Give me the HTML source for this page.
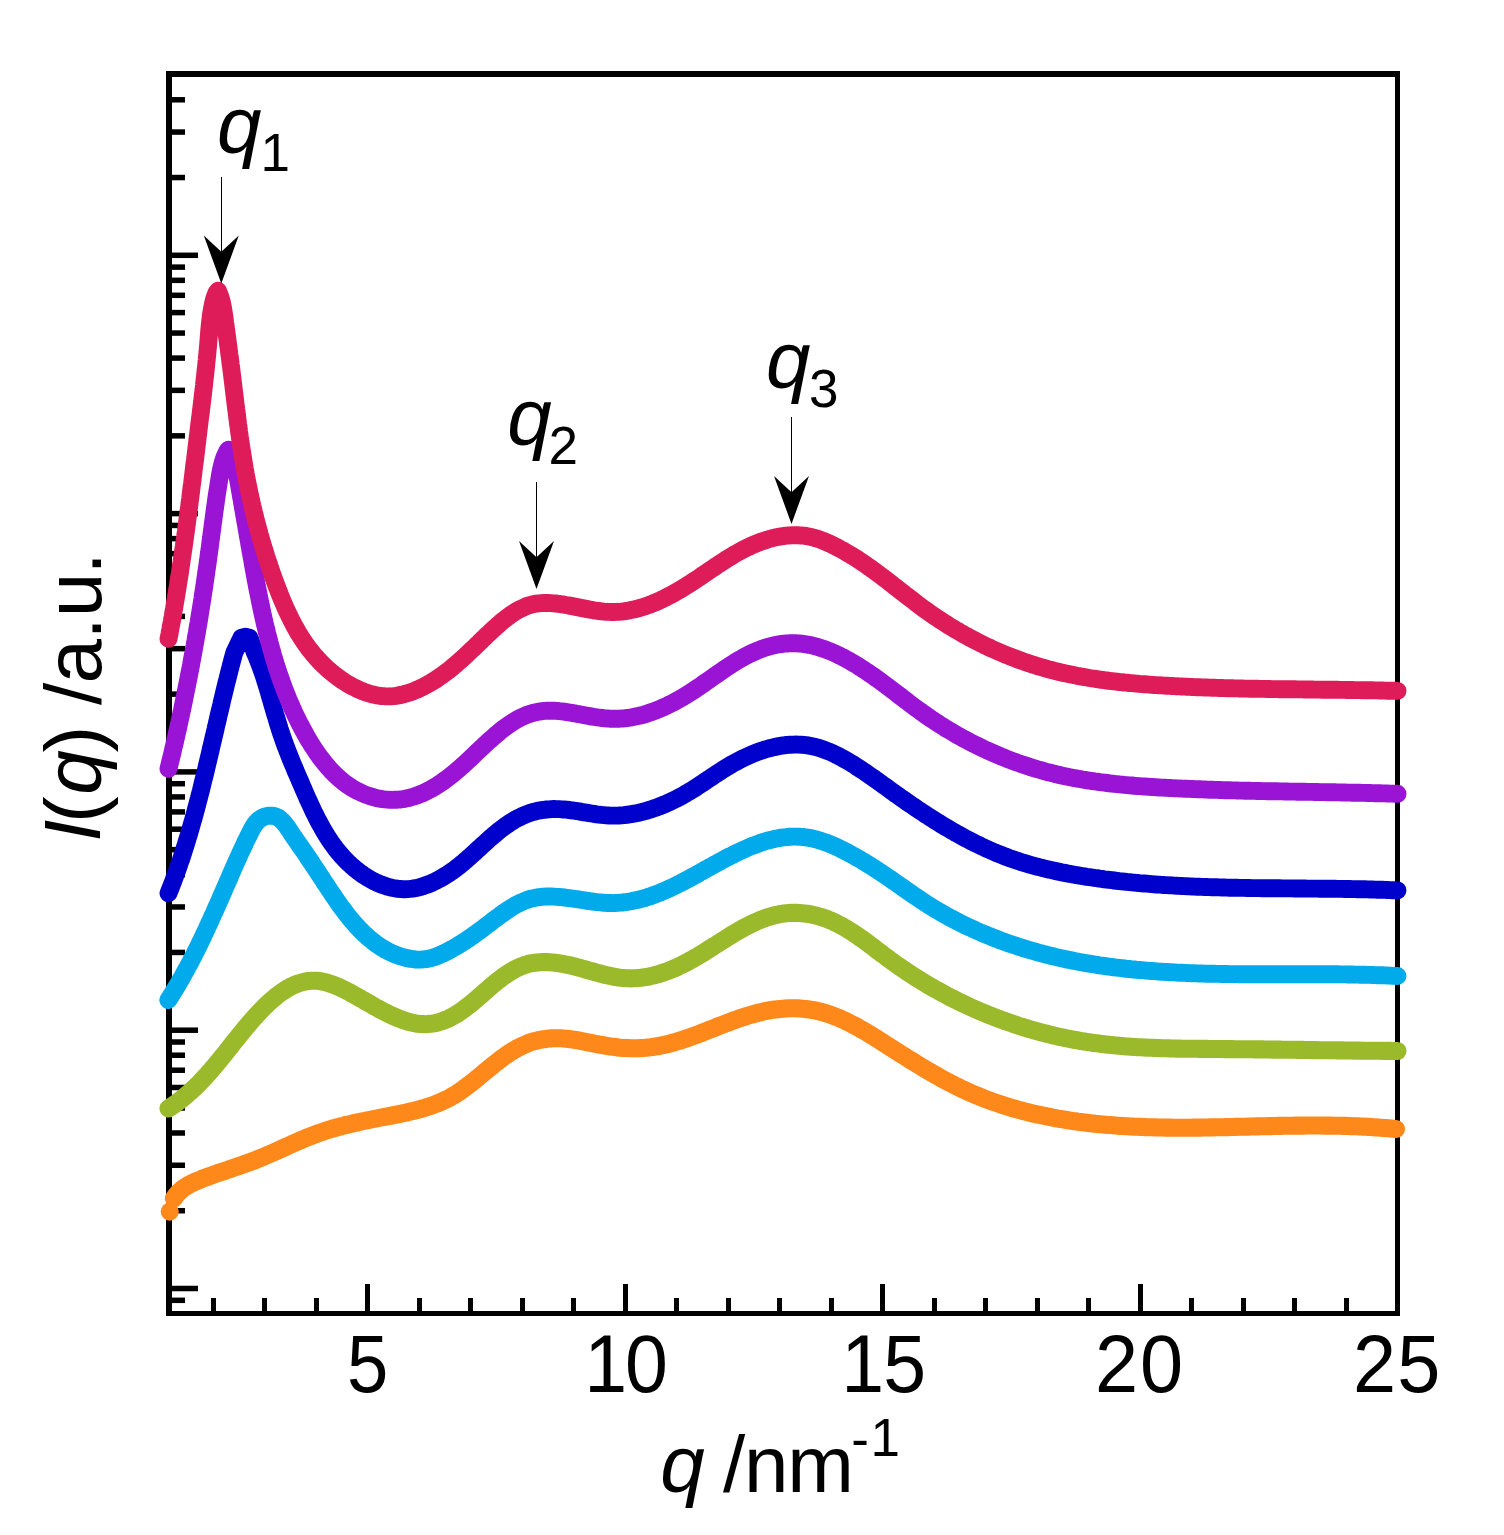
<!DOCTYPE html>
<html lang="en">
<head>
<meta charset="utf-8">
<title>I(q) vs q</title>
<style>
html,body{margin:0;padding:0;background:#ffffff;}
body{width:1504px;height:1535px;overflow:hidden;}
svg{display:block;}
</style>
</head>
<body>
<svg width="1504" height="1535" viewBox="0 0 1504 1535" role="img" aria-label="Scattering intensity I(q) versus q">
<rect x="0" y="0" width="1504" height="1535" fill="#ffffff"/>
<g fill="#000000" shape-rendering="crispEdges">
<rect x="166" y="71" width="1234" height="6"/>
<rect x="166" y="1311" width="1234" height="5"/>
<rect x="166" y="71" width="6" height="1245"/>
<rect x="1395" y="71" width="5" height="1245"/>
<rect x="211" y="1298" width="5" height="14"/>
<rect x="262" y="1298" width="5" height="14"/>
<rect x="314" y="1298" width="5" height="14"/>
<rect x="365" y="1284" width="5" height="28"/>
<rect x="417" y="1298" width="5" height="14"/>
<rect x="468" y="1298" width="5" height="14"/>
<rect x="520" y="1298" width="5" height="14"/>
<rect x="571" y="1298" width="5" height="14"/>
<rect x="623" y="1284" width="5" height="28"/>
<rect x="674" y="1298" width="5" height="14"/>
<rect x="726" y="1298" width="5" height="14"/>
<rect x="777" y="1298" width="5" height="14"/>
<rect x="829" y="1298" width="5" height="14"/>
<rect x="880" y="1284" width="5" height="28"/>
<rect x="932" y="1298" width="5" height="14"/>
<rect x="983" y="1298" width="5" height="14"/>
<rect x="1035" y="1298" width="5" height="14"/>
<rect x="1086" y="1298" width="5" height="14"/>
<rect x="1138" y="1284" width="5" height="28"/>
<rect x="1189" y="1298" width="5" height="14"/>
<rect x="1241" y="1298" width="5" height="14"/>
<rect x="1292" y="1298" width="5" height="14"/>
<rect x="1344" y="1298" width="5" height="14"/>
</g>
<g fill="#000000"><rect x="171" y="252.55" width="27" height="5.5"/><rect x="171" y="174.79" width="14" height="5.5"/><rect x="171" y="129.31" width="14" height="5.5"/><rect x="171" y="97.04" width="14" height="5.5"/><rect x="171" y="510.85" width="27" height="5.5"/><rect x="171" y="433.09" width="14" height="5.5"/><rect x="171" y="387.61" width="14" height="5.5"/><rect x="171" y="355.34" width="14" height="5.5"/><rect x="171" y="330.31" width="14" height="5.5"/><rect x="171" y="309.85" width="14" height="5.5"/><rect x="171" y="292.56" width="14" height="5.5"/><rect x="171" y="277.58" width="14" height="5.5"/><rect x="171" y="264.37" width="14" height="5.5"/><rect x="171" y="769.15" width="27" height="5.5"/><rect x="171" y="691.39" width="14" height="5.5"/><rect x="171" y="645.91" width="14" height="5.5"/><rect x="171" y="613.64" width="14" height="5.5"/><rect x="171" y="588.61" width="14" height="5.5"/><rect x="171" y="568.15" width="14" height="5.5"/><rect x="171" y="550.86" width="14" height="5.5"/><rect x="171" y="535.88" width="14" height="5.5"/><rect x="171" y="522.67" width="14" height="5.5"/><rect x="171" y="1027.45" width="27" height="5.5"/><rect x="171" y="949.69" width="14" height="5.5"/><rect x="171" y="904.21" width="14" height="5.5"/><rect x="171" y="871.94" width="14" height="5.5"/><rect x="171" y="846.91" width="14" height="5.5"/><rect x="171" y="826.45" width="14" height="5.5"/><rect x="171" y="809.16" width="14" height="5.5"/><rect x="171" y="794.18" width="14" height="5.5"/><rect x="171" y="780.97" width="14" height="5.5"/><rect x="171" y="1285.75" width="27" height="5.5"/><rect x="171" y="1207.99" width="14" height="5.5"/><rect x="171" y="1162.51" width="14" height="5.5"/><rect x="171" y="1130.24" width="14" height="5.5"/><rect x="171" y="1105.21" width="14" height="5.5"/><rect x="171" y="1084.75" width="14" height="5.5"/><rect x="171" y="1067.46" width="14" height="5.5"/><rect x="171" y="1052.48" width="14" height="5.5"/><rect x="171" y="1039.27" width="14" height="5.5"/><rect x="171" y="1297.57" width="14" height="5.5"/></g>
<circle cx="169.7" cy="1211.6" r="9.05" fill="#FF881A"/>
<path d="M173.9 1198.4 L175.3 1196.3 L176.8 1194.4 L178.4 1192.6 L180.1 1191.0 L181.9 1189.4 L183.8 1188.0 L185.8 1186.7 L187.9 1185.4 L190.0 1184.2 L192.1 1183.1 L194.4 1182.1 L196.6 1181.1 L198.9 1180.2 L201.2 1179.2 L203.5 1178.3 L205.9 1177.4 L208.2 1176.6 L210.6 1175.7 L212.9 1174.9 L215.3 1174.0 L217.7 1173.2 L220.1 1172.4 L222.5 1171.6 L224.9 1170.8 L227.3 1170.0 L229.7 1169.2 L232.1 1168.4 L234.5 1167.5 L236.9 1166.7 L239.3 1165.9 L241.6 1165.1 L244.0 1164.2 L246.4 1163.4 L248.8 1162.5 L251.2 1161.6 L253.5 1160.8 L255.9 1159.8 L258.2 1158.9 L260.6 1158.0 L262.9 1157.0 L265.2 1156.0 L267.5 1155.0 L269.9 1154.0 L272.2 1153.0 L274.5 1152.0 L276.7 1151.0 L279.0 1150.0 L281.3 1148.9 L283.6 1147.9 L285.9 1146.9 L288.2 1145.8 L290.5 1144.8 L292.7 1143.8 L295.0 1142.8 L297.3 1141.7 L299.6 1140.7 L301.9 1139.8 L304.2 1138.8 L306.5 1137.8 L308.8 1136.9 L311.1 1136.0 L313.4 1135.1 L315.8 1134.2 L318.1 1133.3 L320.5 1132.5 L322.8 1131.7 L325.2 1130.9 L327.5 1130.2 L329.9 1129.4 L332.3 1128.7 L334.7 1128.0 L337.1 1127.4 L339.5 1126.7 L341.9 1126.1 L344.4 1125.4 L346.8 1124.8 L349.2 1124.3 L351.7 1123.7 L354.1 1123.1 L356.6 1122.6 L359.0 1122.0 L361.5 1121.5 L363.9 1121.0 L366.4 1120.5 L368.9 1120.0 L371.3 1119.5 L373.8 1119.0 L376.3 1118.5 L378.8 1118.0 L381.2 1117.5 L383.7 1117.0 L386.2 1116.6 L388.7 1116.1 L391.2 1115.6 L393.7 1115.1 L396.2 1114.6 L398.6 1114.1 L401.1 1113.6 L403.6 1113.1 L406.1 1112.6 L408.5 1112.0 L411.0 1111.4 L413.4 1110.9 L415.9 1110.3 L418.3 1109.6 L420.7 1109.0 L423.1 1108.3 L425.5 1107.6 L427.8 1106.8 L430.2 1106.1 L432.5 1105.3 L434.9 1104.4 L437.2 1103.5 L439.4 1102.6 L441.7 1101.6 L443.9 1100.6 L446.2 1099.5 L448.3 1098.4 L450.5 1097.3 L452.6 1096.0 L454.8 1094.8 L456.8 1093.5 L458.9 1092.1 L461.0 1090.7 L463.0 1089.3 L465.0 1087.8 L467.0 1086.3 L469.0 1084.8 L471.0 1083.2 L473.0 1081.7 L475.0 1080.1 L476.9 1078.5 L478.9 1076.8 L480.9 1075.2 L482.8 1073.6 L484.8 1071.9 L486.8 1070.3 L488.8 1068.7 L490.8 1067.0 L492.8 1065.4 L494.8 1063.8 L496.8 1062.2 L498.8 1060.6 L500.9 1059.0 L502.9 1057.5 L505.0 1056.0 L507.1 1054.6 L509.2 1053.1 L511.4 1051.8 L513.5 1050.4 L515.7 1049.2 L517.9 1047.9 L520.1 1046.8 L522.3 1045.7 L524.6 1044.7 L526.9 1043.7 L529.2 1042.8 L531.5 1042.0 L533.9 1041.3 L536.3 1040.7 L538.7 1040.1 L541.1 1039.6 L543.5 1039.2 L546.0 1038.9 L548.4 1038.6 L550.9 1038.4 L553.4 1038.3 L555.9 1038.2 L558.3 1038.3 L560.8 1038.3 L563.3 1038.5 L565.8 1038.7 L568.2 1038.9 L570.7 1039.2 L573.2 1039.6 L575.7 1040.0 L578.1 1040.4 L580.6 1040.8 L583.1 1041.3 L585.6 1041.8 L588.0 1042.3 L590.5 1042.8 L593.0 1043.3 L595.5 1043.8 L598.0 1044.3 L600.5 1044.8 L603.0 1045.2 L605.5 1045.7 L608.0 1046.1 L610.5 1046.5 L613.0 1046.8 L615.5 1047.1 L618.0 1047.4 L620.5 1047.7 L623.0 1047.9 L625.6 1048.0 L628.1 1048.1 L630.6 1048.2 L633.1 1048.3 L635.6 1048.2 L638.1 1048.2 L640.6 1048.1 L643.1 1048.0 L645.6 1047.8 L648.1 1047.5 L650.5 1047.3 L653.0 1046.9 L655.4 1046.6 L657.9 1046.1 L660.3 1045.7 L662.7 1045.2 L665.1 1044.6 L667.6 1044.1 L670.0 1043.5 L672.4 1042.8 L674.8 1042.1 L677.1 1041.4 L679.5 1040.7 L681.9 1040.0 L684.3 1039.2 L686.6 1038.4 L689.0 1037.6 L691.4 1036.7 L693.7 1035.9 L696.1 1035.0 L698.5 1034.1 L700.8 1033.2 L703.2 1032.3 L705.5 1031.4 L707.9 1030.4 L710.2 1029.5 L712.6 1028.6 L714.9 1027.7 L717.3 1026.7 L719.6 1025.8 L722.0 1024.9 L724.4 1024.0 L726.7 1023.1 L729.1 1022.2 L731.5 1021.3 L733.8 1020.4 L736.2 1019.6 L738.6 1018.7 L741.0 1017.9 L743.4 1017.1 L745.8 1016.3 L748.2 1015.6 L750.6 1014.9 L753.0 1014.2 L755.4 1013.5 L757.9 1012.9 L760.3 1012.3 L762.8 1011.7 L765.2 1011.2 L767.7 1010.7 L770.2 1010.2 L772.7 1009.8 L775.2 1009.5 L777.7 1009.2 L780.2 1008.9 L782.7 1008.7 L785.2 1008.5 L787.7 1008.4 L790.2 1008.3 L792.8 1008.3 L795.3 1008.3 L797.8 1008.4 L800.2 1008.5 L802.7 1008.7 L805.2 1008.9 L807.7 1009.2 L810.1 1009.6 L812.5 1010.0 L815.0 1010.4 L817.4 1010.9 L819.7 1011.5 L822.1 1012.1 L824.5 1012.8 L826.8 1013.5 L829.1 1014.3 L831.5 1015.1 L833.8 1016.0 L836.1 1016.9 L838.4 1017.8 L840.6 1018.8 L842.9 1019.8 L845.2 1020.8 L847.4 1021.9 L849.6 1023.0 L851.9 1024.2 L854.1 1025.3 L856.3 1026.5 L858.5 1027.7 L860.7 1029.0 L862.9 1030.2 L865.1 1031.5 L867.3 1032.8 L869.4 1034.1 L871.6 1035.4 L873.8 1036.8 L876.0 1038.1 L878.1 1039.5 L880.3 1040.9 L882.4 1042.2 L884.6 1043.6 L886.7 1045.0 L888.9 1046.4 L891.0 1047.7 L893.2 1049.1 L895.3 1050.5 L897.5 1051.9 L899.6 1053.2 L901.8 1054.6 L903.9 1055.9 L906.1 1057.3 L908.2 1058.6 L910.4 1060.0 L912.5 1061.3 L914.7 1062.7 L916.8 1064.0 L919.0 1065.3 L921.1 1066.6 L923.3 1067.9 L925.5 1069.2 L927.6 1070.5 L929.8 1071.8 L932.0 1073.0 L934.2 1074.3 L936.4 1075.5 L938.5 1076.7 L940.7 1078.0 L942.9 1079.2 L945.1 1080.4 L947.3 1081.5 L949.5 1082.7 L951.8 1083.8 L954.0 1085.0 L956.2 1086.1 L958.4 1087.2 L960.7 1088.3 L962.9 1089.4 L965.2 1090.4 L967.5 1091.5 L969.7 1092.5 L972.0 1093.5 L974.3 1094.5 L976.6 1095.4 L978.9 1096.4 L981.2 1097.3 L983.5 1098.2 L985.8 1099.1 L988.1 1100.0 L990.5 1100.9 L992.8 1101.7 L995.2 1102.5 L997.5 1103.3 L999.9 1104.1 L1002.2 1104.9 L1004.6 1105.7 L1007.0 1106.4 L1009.4 1107.1 L1011.8 1107.9 L1014.1 1108.5 L1016.5 1109.2 L1018.9 1109.9 L1021.4 1110.5 L1023.8 1111.2 L1026.2 1111.8 L1028.6 1112.4 L1031.0 1113.0 L1033.5 1113.6 L1035.9 1114.1 L1038.3 1114.7 L1040.8 1115.2 L1043.2 1115.7 L1045.7 1116.2 L1048.1 1116.7 L1050.6 1117.2 L1053.1 1117.7 L1055.5 1118.1 L1058.0 1118.6 L1060.5 1119.0 L1063.0 1119.4 L1065.4 1119.8 L1067.9 1120.2 L1070.4 1120.6 L1072.9 1121.0 L1075.4 1121.3 L1077.9 1121.7 L1080.4 1122.0 L1082.9 1122.3 L1085.4 1122.6 L1087.9 1122.9 L1090.4 1123.2 L1092.9 1123.5 L1095.4 1123.8 L1097.9 1124.0 L1100.4 1124.3 L1102.9 1124.5 L1105.4 1124.7 L1107.9 1124.9 L1110.4 1125.1 L1112.9 1125.3 L1115.4 1125.5 L1117.9 1125.7 L1120.4 1125.9 L1123.0 1126.0 L1125.5 1126.2 L1128.0 1126.3 L1130.5 1126.5 L1133.0 1126.6 L1135.5 1126.7 L1138.0 1126.8 L1140.5 1126.9 L1143.0 1127.0 L1145.5 1127.1 L1148.1 1127.2 L1150.6 1127.3 L1153.1 1127.3 L1155.6 1127.4 L1158.1 1127.5 L1160.6 1127.5 L1163.1 1127.5 L1165.6 1127.6 L1168.1 1127.6 L1170.6 1127.6 L1173.1 1127.7 L1175.6 1127.7 L1178.1 1127.7 L1180.6 1127.7 L1183.1 1127.7 L1185.6 1127.7 L1188.1 1127.7 L1190.6 1127.7 L1193.2 1127.6 L1195.7 1127.6 L1198.2 1127.6 L1200.7 1127.6 L1203.2 1127.5 L1205.7 1127.5 L1208.2 1127.5 L1210.7 1127.4 L1213.2 1127.4 L1215.7 1127.3 L1218.2 1127.3 L1220.7 1127.2 L1223.2 1127.2 L1225.7 1127.1 L1228.2 1127.1 L1230.7 1127.0 L1233.2 1127.0 L1235.7 1126.9 L1238.2 1126.8 L1240.7 1126.8 L1243.2 1126.7 L1245.7 1126.7 L1248.2 1126.6 L1250.7 1126.5 L1253.2 1126.5 L1255.7 1126.4 L1258.2 1126.4 L1260.7 1126.3 L1263.2 1126.2 L1265.7 1126.2 L1268.2 1126.1 L1270.7 1126.1 L1273.2 1126.0 L1275.7 1126.0 L1278.2 1125.9 L1280.7 1125.9 L1283.2 1125.8 L1285.7 1125.8 L1288.2 1125.7 L1290.7 1125.7 L1293.2 1125.7 L1295.7 1125.6 L1298.2 1125.6 L1300.7 1125.6 L1303.2 1125.6 L1305.7 1125.5 L1308.2 1125.5 L1310.7 1125.5 L1313.2 1125.5 L1315.7 1125.5 L1318.2 1125.5 L1320.7 1125.5 L1323.3 1125.6 L1325.8 1125.6 L1328.3 1125.6 L1330.8 1125.6 L1333.3 1125.7 L1335.8 1125.7 L1338.3 1125.8 L1340.8 1125.8 L1343.3 1125.9 L1345.8 1125.9 L1348.3 1126.0 L1350.8 1126.1 L1353.3 1126.2 L1355.8 1126.3 L1358.3 1126.4 L1360.8 1126.5 L1363.4 1126.6 L1365.9 1126.8 L1368.4 1126.9 L1370.9 1127.0 L1373.4 1127.2 L1375.9 1127.4 L1378.4 1127.5 L1380.9 1127.7 L1383.4 1127.9 L1385.9 1128.1 L1388.5 1128.3 L1391.0 1128.5 L1393.5 1128.8 L1396.0 1129.0" fill="none" stroke="#FF881A" stroke-width="18.1" stroke-linecap="round" stroke-linejoin="round"/>
<path d="M168.5 1108.5 L170.7 1107.0 L172.9 1105.5 L175.1 1104.0 L177.2 1102.5 L179.2 1100.9 L181.3 1099.4 L183.3 1097.8 L185.2 1096.2 L187.1 1094.5 L189.0 1092.9 L190.9 1091.2 L192.7 1089.5 L194.6 1087.8 L196.3 1086.1 L198.1 1084.3 L199.8 1082.6 L201.5 1080.8 L203.2 1079.0 L204.9 1077.2 L206.6 1075.4 L208.2 1073.6 L209.8 1071.7 L211.4 1069.9 L213.0 1068.0 L214.6 1066.2 L216.2 1064.3 L217.7 1062.4 L219.3 1060.5 L220.8 1058.6 L222.4 1056.7 L223.9 1054.8 L225.5 1052.8 L227.0 1050.9 L228.5 1049.0 L230.1 1047.0 L231.6 1045.1 L233.1 1043.2 L234.7 1041.2 L236.2 1039.3 L237.8 1037.3 L239.4 1035.4 L241.0 1033.4 L242.6 1031.4 L244.2 1029.5 L245.8 1027.5 L247.4 1025.6 L249.1 1023.6 L250.7 1021.7 L252.4 1019.8 L254.2 1017.8 L255.9 1015.9 L257.7 1014.0 L259.4 1012.1 L261.2 1010.2 L263.1 1008.3 L264.9 1006.4 L266.8 1004.6 L268.7 1002.8 L270.6 1001.1 L272.6 999.4 L274.5 997.7 L276.5 996.1 L278.5 994.5 L280.6 993.0 L282.6 991.6 L284.7 990.2 L286.8 988.9 L288.9 987.7 L291.0 986.6 L293.2 985.6 L295.4 984.6 L297.6 983.7 L299.8 983.0 L302.1 982.3 L304.3 981.8 L306.6 981.3 L308.9 981.0 L311.2 980.8 L313.6 980.7 L316.0 980.8 L318.4 980.9 L320.8 981.3 L323.2 981.7 L325.6 982.3 L328.1 983.0 L330.5 983.8 L333.0 984.6 L335.4 985.6 L337.9 986.6 L340.3 987.7 L342.8 988.9 L345.2 990.1 L347.5 991.3 L349.9 992.5 L352.2 993.8 L354.5 995.1 L356.8 996.4 L359.0 997.6 L361.2 998.9 L363.4 1000.1 L365.6 1001.4 L367.7 1002.6 L369.9 1003.8 L372.0 1005.1 L374.1 1006.3 L376.2 1007.5 L378.4 1008.6 L380.5 1009.8 L382.7 1010.9 L384.9 1012.1 L387.1 1013.2 L389.3 1014.3 L391.6 1015.4 L393.9 1016.4 L396.2 1017.4 L398.6 1018.4 L401.0 1019.3 L403.4 1020.2 L405.8 1021.0 L408.2 1021.7 L410.7 1022.4 L413.1 1022.9 L415.6 1023.4 L418.0 1023.7 L420.5 1024.0 L423.0 1024.1 L425.4 1024.2 L427.9 1024.1 L430.3 1023.8 L432.7 1023.5 L435.1 1023.1 L437.5 1022.6 L439.8 1021.9 L442.1 1021.2 L444.4 1020.3 L446.6 1019.4 L448.8 1018.4 L451.0 1017.3 L453.2 1016.1 L455.3 1014.9 L457.5 1013.6 L459.6 1012.2 L461.6 1010.8 L463.7 1009.3 L465.7 1007.8 L467.8 1006.2 L469.8 1004.6 L471.8 1003.0 L473.8 1001.3 L475.8 999.6 L477.8 997.9 L479.8 996.2 L481.7 994.5 L483.7 992.8 L485.7 991.0 L487.7 989.3 L489.6 987.6 L491.6 985.9 L493.6 984.2 L495.6 982.6 L497.6 980.9 L499.7 979.4 L501.7 977.8 L503.7 976.3 L505.8 974.9 L507.9 973.5 L510.0 972.1 L512.1 970.9 L514.3 969.6 L516.4 968.5 L518.6 967.5 L520.8 966.5 L523.1 965.6 L525.4 964.8 L527.7 964.1 L530.0 963.5 L532.4 963.1 L534.8 962.7 L537.3 962.4 L539.7 962.2 L542.2 962.1 L544.7 962.1 L547.3 962.1 L549.8 962.3 L552.3 962.5 L554.9 962.7 L557.4 963.1 L560.0 963.4 L562.5 963.9 L565.0 964.4 L567.6 964.9 L570.1 965.4 L572.6 966.0 L575.1 966.6 L577.5 967.3 L580.0 967.9 L582.4 968.6 L584.8 969.3 L587.3 970.0 L589.7 970.7 L592.1 971.3 L594.5 972.0 L596.9 972.7 L599.3 973.3 L601.7 974.0 L604.1 974.6 L606.5 975.2 L608.9 975.7 L611.3 976.2 L613.7 976.7 L616.1 977.1 L618.6 977.5 L621.0 977.8 L623.5 978.0 L625.9 978.2 L628.4 978.3 L630.9 978.4 L633.4 978.3 L636.0 978.2 L638.5 978.0 L641.0 977.8 L643.6 977.4 L646.1 977.0 L648.6 976.6 L651.1 976.0 L653.6 975.5 L656.1 974.8 L658.5 974.2 L660.9 973.4 L663.3 972.6 L665.6 971.8 L668.0 971.0 L670.3 970.0 L672.6 969.1 L674.9 968.1 L677.2 967.1 L679.4 966.0 L681.7 964.9 L683.9 963.8 L686.1 962.7 L688.3 961.5 L690.5 960.3 L692.7 959.1 L694.9 957.8 L697.1 956.6 L699.2 955.3 L701.4 954.0 L703.5 952.7 L705.7 951.3 L707.8 950.0 L709.9 948.6 L712.1 947.3 L714.2 945.9 L716.3 944.6 L718.5 943.2 L720.6 941.9 L722.7 940.5 L724.9 939.2 L727.0 937.8 L729.2 936.5 L731.3 935.1 L733.5 933.8 L735.7 932.5 L737.8 931.2 L740.0 930.0 L742.2 928.7 L744.4 927.5 L746.6 926.4 L748.9 925.2 L751.1 924.1 L753.3 923.0 L755.6 922.0 L757.9 921.0 L760.2 920.0 L762.5 919.1 L764.8 918.2 L767.1 917.4 L769.5 916.7 L771.9 916.0 L774.3 915.4 L776.7 914.8 L779.1 914.3 L781.6 913.9 L784.0 913.5 L786.5 913.2 L789.0 913.0 L791.6 912.9 L794.1 912.8 L796.7 912.9 L799.3 913.0 L801.9 913.2 L804.5 913.5 L807.1 913.8 L809.7 914.2 L812.2 914.7 L814.7 915.3 L817.2 915.9 L819.6 916.6 L822.0 917.3 L824.4 918.1 L826.7 918.9 L829.0 919.9 L831.3 920.8 L833.6 921.8 L835.8 922.9 L838.0 924.0 L840.2 925.1 L842.4 926.3 L844.5 927.5 L846.7 928.8 L848.8 930.1 L850.9 931.4 L853.0 932.7 L855.1 934.1 L857.1 935.5 L859.2 936.9 L861.2 938.4 L863.3 939.8 L865.3 941.3 L867.3 942.8 L869.3 944.3 L871.4 945.8 L873.4 947.3 L875.4 948.9 L877.4 950.4 L879.4 951.9 L881.4 953.5 L883.4 955.0 L885.5 956.5 L887.5 958.0 L889.5 959.5 L891.6 961.0 L893.6 962.5 L895.7 964.0 L897.7 965.4 L899.8 966.9 L901.9 968.3 L904.0 969.7 L906.0 971.1 L908.1 972.5 L910.3 973.9 L912.4 975.3 L914.5 976.7 L916.6 978.0 L918.7 979.3 L920.9 980.7 L923.0 982.0 L925.2 983.3 L927.4 984.6 L929.5 985.8 L931.7 987.1 L933.9 988.4 L936.1 989.6 L938.3 990.8 L940.5 992.0 L942.7 993.2 L944.9 994.4 L947.1 995.6 L949.3 996.8 L951.5 997.9 L953.8 999.0 L956.0 1000.2 L958.3 1001.3 L960.5 1002.4 L962.8 1003.5 L965.0 1004.5 L967.3 1005.6 L969.6 1006.7 L971.9 1007.7 L974.2 1008.7 L976.5 1009.7 L978.7 1010.7 L981.0 1011.7 L983.4 1012.7 L985.7 1013.6 L988.0 1014.6 L990.3 1015.5 L992.6 1016.4 L995.0 1017.4 L997.3 1018.2 L999.6 1019.1 L1002.0 1020.0 L1004.3 1020.8 L1006.7 1021.7 L1009.1 1022.5 L1011.4 1023.3 L1013.8 1024.1 L1016.2 1024.9 L1018.5 1025.7 L1020.9 1026.5 L1023.3 1027.2 L1025.7 1027.9 L1028.1 1028.7 L1030.5 1029.4 L1032.9 1030.1 L1035.3 1030.7 L1037.7 1031.4 L1040.1 1032.1 L1042.5 1032.7 L1045.0 1033.3 L1047.4 1033.9 L1049.8 1034.5 L1052.2 1035.1 L1054.7 1035.7 L1057.1 1036.3 L1059.6 1036.8 L1062.0 1037.3 L1064.5 1037.9 L1066.9 1038.4 L1069.4 1038.8 L1071.8 1039.3 L1074.3 1039.8 L1076.7 1040.2 L1079.2 1040.7 L1081.7 1041.1 L1084.1 1041.5 L1086.6 1041.9 L1089.1 1042.3 L1091.6 1042.6 L1094.0 1043.0 L1096.5 1043.3 L1099.0 1043.6 L1101.5 1043.9 L1104.0 1044.2 L1106.5 1044.5 L1109.0 1044.8 L1111.5 1045.0 L1114.0 1045.3 L1116.5 1045.5 L1119.0 1045.8 L1121.5 1046.0 L1124.0 1046.2 L1126.5 1046.4 L1129.0 1046.6 L1131.5 1046.7 L1134.0 1046.9 L1136.5 1047.1 L1139.0 1047.2 L1141.5 1047.3 L1144.1 1047.5 L1146.6 1047.6 L1149.1 1047.7 L1151.6 1047.8 L1154.1 1047.9 L1156.6 1048.0 L1159.2 1048.1 L1161.7 1048.2 L1164.2 1048.3 L1166.7 1048.3 L1169.3 1048.4 L1171.8 1048.5 L1174.3 1048.5 L1176.8 1048.6 L1179.3 1048.6 L1181.9 1048.7 L1184.4 1048.7 L1186.9 1048.7 L1189.4 1048.8 L1191.9 1048.8 L1194.5 1048.8 L1197.0 1048.8 L1199.5 1048.9 L1202.0 1048.9 L1204.5 1048.9 L1207.1 1048.9 L1209.6 1049.0 L1212.1 1049.0 L1214.6 1049.0 L1217.1 1049.0 L1219.6 1049.0 L1222.2 1049.0 L1224.7 1049.1 L1227.2 1049.1 L1229.7 1049.1 L1232.2 1049.1 L1234.7 1049.2 L1237.2 1049.2 L1239.7 1049.2 L1242.2 1049.2 L1244.7 1049.3 L1247.2 1049.3 L1249.7 1049.3 L1252.2 1049.3 L1254.7 1049.4 L1257.2 1049.4 L1259.7 1049.4 L1262.2 1049.4 L1264.7 1049.5 L1267.2 1049.5 L1269.7 1049.5 L1272.2 1049.6 L1274.7 1049.6 L1277.2 1049.6 L1279.7 1049.6 L1282.2 1049.7 L1284.7 1049.7 L1287.2 1049.7 L1289.7 1049.8 L1292.2 1049.8 L1294.7 1049.8 L1297.2 1049.9 L1299.7 1049.9 L1302.2 1049.9 L1304.7 1050.0 L1307.2 1050.0 L1309.7 1050.0 L1312.2 1050.1 L1314.7 1050.1 L1317.2 1050.1 L1319.7 1050.2 L1322.2 1050.2 L1324.7 1050.2 L1327.2 1050.2 L1329.7 1050.3 L1332.2 1050.3 L1334.7 1050.3 L1337.2 1050.4 L1339.7 1050.4 L1342.2 1050.4 L1344.7 1050.5 L1347.2 1050.5 L1349.7 1050.5 L1352.2 1050.5 L1354.7 1050.6 L1357.2 1050.6 L1359.7 1050.6 L1362.2 1050.7 L1364.7 1050.7 L1367.3 1050.7 L1369.8 1050.7 L1372.3 1050.8 L1374.8 1050.8 L1377.3 1050.8 L1379.8 1050.8 L1382.4 1050.9 L1384.9 1050.9 L1387.4 1050.9 L1389.9 1050.9 L1392.4 1051.0 L1395.0 1051.0 L1397.5 1051.0" fill="none" stroke="#9ABA2C" stroke-width="18.1" stroke-linecap="round" stroke-linejoin="round"/>
<path d="M168.3 1000.0 L169.7 997.9 L171.0 995.8 L172.3 993.7 L173.6 991.6 L174.9 989.4 L176.2 987.3 L177.5 985.2 L178.8 983.0 L180.0 980.8 L181.3 978.7 L182.5 976.5 L183.7 974.3 L184.9 972.1 L186.1 969.9 L187.3 967.7 L188.5 965.5 L189.7 963.3 L190.9 961.1 L192.0 958.8 L193.2 956.6 L194.3 954.4 L195.4 952.1 L196.6 949.9 L197.7 947.6 L198.8 945.4 L199.9 943.1 L201.0 940.8 L202.1 938.6 L203.2 936.3 L204.2 934.0 L205.3 931.8 L206.4 929.5 L207.4 927.2 L208.5 924.9 L209.5 922.6 L210.6 920.3 L211.6 918.0 L212.6 915.8 L213.7 913.5 L214.7 911.2 L215.7 908.9 L216.7 906.6 L217.8 904.3 L218.8 902.0 L219.8 899.7 L220.8 897.4 L221.8 895.1 L222.8 892.9 L223.8 890.6 L224.8 888.3 L225.8 886.0 L226.8 883.7 L227.8 881.4 L228.8 879.2 L229.8 876.9 L230.7 874.6 L231.7 872.4 L232.7 870.1 L233.7 867.8 L234.7 865.6 L235.7 863.3 L236.7 861.0 L237.8 858.8 L238.8 856.5 L239.8 854.2 L240.9 851.9 L241.9 849.7 L243.0 847.4 L244.1 845.1 L245.1 842.7 L246.2 840.4 L247.4 838.1 L248.5 835.8 L249.7 833.4 L250.8 831.1 L252.1 828.8 L253.4 826.5 L254.8 824.4 L256.4 822.4 L258.1 820.6 L260.0 819.1 L262.1 817.7 L264.4 816.7 L266.8 816.0 L269.2 815.6 L271.6 815.6 L273.9 815.9 L276.1 816.7 L278.2 817.7 L280.2 819.1 L282.0 820.7 L283.8 822.6 L285.4 824.6 L287.0 826.7 L288.6 829.0 L290.1 831.2 L291.5 833.5 L293.0 835.7 L294.4 837.8 L295.9 839.9 L297.3 841.9 L298.7 844.0 L300.1 846.0 L301.5 848.0 L302.9 849.9 L304.3 851.9 L305.6 853.9 L307.0 856.0 L308.4 858.0 L309.7 860.0 L311.1 862.0 L312.4 864.1 L313.8 866.1 L315.2 868.2 L316.5 870.2 L317.9 872.3 L319.2 874.4 L320.6 876.4 L322.0 878.5 L323.3 880.6 L324.7 882.7 L326.1 884.8 L327.5 886.9 L328.9 889.0 L330.3 891.1 L331.7 893.2 L333.1 895.3 L334.5 897.4 L336.0 899.5 L337.4 901.6 L338.9 903.7 L340.4 905.8 L341.9 907.8 L343.4 909.9 L345.0 911.9 L346.5 914.0 L348.1 916.0 L349.7 918.0 L351.3 919.9 L352.9 921.9 L354.6 923.8 L356.3 925.7 L358.0 927.5 L359.7 929.4 L361.5 931.2 L363.2 932.9 L365.1 934.6 L366.9 936.3 L368.8 938.0 L370.7 939.6 L372.6 941.1 L374.5 942.7 L376.5 944.1 L378.6 945.5 L380.6 946.9 L382.7 948.2 L384.9 949.5 L387.0 950.6 L389.2 951.8 L391.5 952.9 L393.8 953.9 L396.1 954.8 L398.5 955.7 L400.9 956.5 L403.3 957.2 L405.8 957.9 L408.3 958.4 L410.8 958.9 L413.3 959.2 L415.8 959.5 L418.3 959.6 L420.8 959.6 L423.3 959.4 L425.8 959.2 L428.3 958.7 L430.7 958.2 L433.1 957.5 L435.5 956.7 L437.9 955.8 L440.2 954.8 L442.5 953.7 L444.8 952.7 L447.1 951.6 L449.3 950.4 L451.5 949.2 L453.7 948.0 L455.8 946.8 L458.0 945.5 L460.1 944.2 L462.2 942.9 L464.3 941.5 L466.3 940.2 L468.4 938.8 L470.4 937.4 L472.5 936.0 L474.5 934.5 L476.5 933.1 L478.5 931.6 L480.6 930.1 L482.6 928.6 L484.6 927.1 L486.6 925.5 L488.7 924.0 L490.7 922.4 L492.7 920.8 L494.8 919.3 L496.9 917.7 L499.0 916.2 L501.1 914.6 L503.2 913.1 L505.3 911.6 L507.4 910.2 L509.6 908.8 L511.7 907.4 L513.9 906.1 L516.1 904.8 L518.4 903.7 L520.6 902.6 L522.9 901.6 L525.2 900.6 L527.5 899.8 L529.8 899.0 L532.1 898.4 L534.5 897.9 L536.9 897.4 L539.3 897.1 L541.7 896.8 L544.2 896.7 L546.7 896.5 L549.1 896.5 L551.6 896.5 L554.1 896.6 L556.7 896.8 L559.2 897.0 L561.7 897.2 L564.3 897.5 L566.8 897.8 L569.4 898.1 L571.9 898.5 L574.5 898.9 L577.1 899.2 L579.7 899.6 L582.2 900.0 L584.8 900.4 L587.4 900.8 L589.9 901.2 L592.5 901.5 L595.0 901.9 L597.6 902.2 L600.1 902.4 L602.7 902.7 L605.2 902.8 L607.7 903.0 L610.2 903.0 L612.7 903.1 L615.1 903.0 L617.6 902.9 L620.0 902.7 L622.5 902.5 L624.9 902.2 L627.3 901.9 L629.7 901.5 L632.1 901.1 L634.4 900.6 L636.8 900.1 L639.2 899.5 L641.5 898.9 L643.8 898.3 L646.2 897.6 L648.5 896.8 L650.8 896.1 L653.1 895.2 L655.4 894.4 L657.7 893.5 L660.0 892.6 L662.3 891.7 L664.5 890.7 L666.8 889.7 L669.1 888.6 L671.3 887.6 L673.6 886.5 L675.8 885.4 L678.1 884.3 L680.3 883.2 L682.6 882.0 L684.8 880.8 L687.0 879.7 L689.3 878.5 L691.5 877.2 L693.8 876.0 L696.0 874.8 L698.2 873.6 L700.5 872.3 L702.7 871.1 L704.9 869.8 L707.2 868.6 L709.4 867.3 L711.7 866.1 L713.9 864.8 L716.2 863.6 L718.4 862.4 L720.7 861.1 L723.0 859.9 L725.2 858.7 L727.5 857.5 L729.8 856.3 L732.1 855.2 L734.4 854.0 L736.7 852.9 L739.0 851.8 L741.3 850.7 L743.6 849.6 L745.9 848.6 L748.2 847.6 L750.6 846.6 L752.9 845.7 L755.3 844.8 L757.6 843.9 L760.0 843.1 L762.3 842.3 L764.7 841.5 L767.0 840.8 L769.4 840.2 L771.8 839.6 L774.2 839.0 L776.5 838.5 L778.9 838.1 L781.3 837.7 L783.7 837.3 L786.1 837.1 L788.5 836.8 L790.9 836.7 L793.4 836.6 L795.8 836.6 L798.2 836.7 L800.6 836.8 L803.1 837.0 L805.5 837.3 L807.9 837.6 L810.4 838.1 L812.8 838.6 L815.2 839.2 L817.7 839.9 L820.1 840.6 L822.6 841.4 L825.0 842.2 L827.4 843.1 L829.8 844.1 L832.2 845.1 L834.6 846.1 L837.0 847.2 L839.3 848.3 L841.7 849.5 L844.0 850.6 L846.3 851.8 L848.6 853.0 L850.9 854.3 L853.1 855.5 L855.3 856.7 L857.5 858.0 L859.7 859.2 L861.8 860.5 L864.0 861.8 L866.1 863.1 L868.2 864.4 L870.3 865.7 L872.4 867.0 L874.5 868.3 L876.6 869.7 L878.6 871.0 L880.7 872.4 L882.7 873.7 L884.8 875.1 L886.8 876.5 L888.8 877.9 L890.9 879.3 L892.9 880.7 L895.0 882.1 L897.0 883.6 L899.1 885.0 L901.1 886.4 L903.2 887.9 L905.2 889.3 L907.3 890.8 L909.4 892.2 L911.4 893.6 L913.5 895.1 L915.6 896.5 L917.7 897.9 L919.8 899.3 L921.9 900.7 L924.0 902.1 L926.1 903.5 L928.2 904.8 L930.4 906.2 L932.5 907.5 L934.6 908.8 L936.8 910.1 L939.0 911.4 L941.1 912.7 L943.3 913.9 L945.5 915.1 L947.7 916.4 L949.9 917.6 L952.2 918.8 L954.4 919.9 L956.6 921.1 L958.8 922.2 L961.1 923.4 L963.3 924.5 L965.6 925.6 L967.9 926.7 L970.1 927.7 L972.4 928.8 L974.7 929.8 L977.0 930.9 L979.3 931.9 L981.6 932.9 L983.9 933.8 L986.2 934.8 L988.6 935.8 L990.9 936.7 L993.2 937.6 L995.6 938.5 L997.9 939.4 L1000.2 940.3 L1002.6 941.2 L1005.0 942.0 L1007.3 942.9 L1009.7 943.7 L1012.1 944.5 L1014.4 945.3 L1016.8 946.1 L1019.2 946.9 L1021.6 947.6 L1024.0 948.4 L1026.4 949.1 L1028.8 949.8 L1031.2 950.5 L1033.6 951.2 L1036.0 951.9 L1038.4 952.6 L1040.8 953.2 L1043.2 953.9 L1045.7 954.5 L1048.1 955.1 L1050.5 955.7 L1052.9 956.3 L1055.4 956.9 L1057.8 957.4 L1060.2 958.0 L1062.7 958.5 L1065.1 959.1 L1067.6 959.6 L1070.0 960.1 L1072.5 960.6 L1074.9 961.1 L1077.4 961.5 L1079.8 962.0 L1082.3 962.4 L1084.7 962.9 L1087.2 963.3 L1089.6 963.7 L1092.1 964.1 L1094.6 964.5 L1097.0 964.9 L1099.5 965.3 L1102.0 965.6 L1104.4 966.0 L1106.9 966.3 L1109.4 966.7 L1111.9 967.0 L1114.3 967.3 L1116.8 967.6 L1119.3 967.9 L1121.8 968.2 L1124.3 968.5 L1126.7 968.8 L1129.2 969.0 L1131.7 969.3 L1134.2 969.5 L1136.7 969.8 L1139.2 970.0 L1141.7 970.2 L1144.2 970.4 L1146.7 970.6 L1149.2 970.8 L1151.7 971.0 L1154.2 971.2 L1156.7 971.4 L1159.2 971.6 L1161.7 971.7 L1164.2 971.9 L1166.7 972.0 L1169.2 972.2 L1171.7 972.3 L1174.2 972.4 L1176.7 972.6 L1179.2 972.7 L1181.7 972.8 L1184.2 972.9 L1186.7 973.0 L1189.3 973.1 L1191.8 973.2 L1194.3 973.3 L1196.8 973.4 L1199.3 973.5 L1201.8 973.5 L1204.3 973.6 L1206.9 973.7 L1209.4 973.7 L1211.9 973.8 L1214.4 973.8 L1216.9 973.9 L1219.4 973.9 L1222.0 974.0 L1224.5 974.0 L1227.0 974.0 L1229.5 974.1 L1232.0 974.1 L1234.6 974.1 L1237.1 974.1 L1239.6 974.2 L1242.1 974.2 L1244.7 974.2 L1247.2 974.2 L1249.7 974.2 L1252.2 974.2 L1254.7 974.2 L1257.3 974.2 L1259.8 974.2 L1262.3 974.3 L1264.8 974.3 L1267.3 974.3 L1269.9 974.3 L1272.4 974.3 L1274.9 974.2 L1277.4 974.2 L1279.9 974.2 L1282.5 974.2 L1285.0 974.2 L1287.5 974.2 L1290.0 974.2 L1292.5 974.2 L1295.1 974.2 L1297.6 974.2 L1300.1 974.2 L1302.6 974.2 L1305.1 974.2 L1307.6 974.2 L1310.1 974.2 L1312.7 974.2 L1315.2 974.2 L1317.7 974.2 L1320.2 974.2 L1322.7 974.2 L1325.2 974.2 L1327.7 974.3 L1330.2 974.3 L1332.7 974.3 L1335.2 974.3 L1337.7 974.3 L1340.3 974.4 L1342.8 974.4 L1345.3 974.4 L1347.8 974.5 L1350.3 974.5 L1352.8 974.5 L1355.3 974.6 L1357.7 974.6 L1360.2 974.7 L1362.7 974.7 L1365.2 974.8 L1367.7 974.9 L1370.2 974.9 L1372.7 975.0 L1375.2 975.1 L1377.7 975.2 L1380.2 975.2 L1382.6 975.3 L1385.1 975.4 L1387.6 975.5 L1390.1 975.6 L1392.6 975.8 L1395.0 975.9 L1397.5 976.0" fill="none" stroke="#00AAEB" stroke-width="17.9" stroke-linecap="round" stroke-linejoin="round"/>
<path d="M168.5 893.3 L169.4 890.9 L170.4 888.5 L171.3 886.2 L172.2 883.8 L173.2 881.4 L174.0 879.0 L174.9 876.6 L175.8 874.2 L176.7 871.8 L177.5 869.4 L178.4 867.0 L179.2 864.6 L180.0 862.2 L180.9 859.8 L181.7 857.4 L182.5 854.9 L183.3 852.5 L184.0 850.1 L184.8 847.7 L185.6 845.2 L186.3 842.8 L187.1 840.4 L187.8 837.9 L188.6 835.5 L189.3 833.1 L190.0 830.6 L190.7 828.2 L191.4 825.7 L192.1 823.3 L192.8 820.8 L193.5 818.4 L194.2 815.9 L194.9 813.5 L195.5 811.0 L196.2 808.6 L196.8 806.1 L197.5 803.6 L198.1 801.2 L198.8 798.7 L199.4 796.2 L200.0 793.8 L200.7 791.3 L201.3 788.8 L201.9 786.4 L202.5 783.9 L203.1 781.4 L203.7 778.9 L204.4 776.5 L205.0 774.0 L205.6 771.5 L206.2 769.0 L206.7 766.6 L207.3 764.1 L207.9 761.6 L208.5 759.1 L209.1 756.6 L209.7 754.2 L210.3 751.7 L210.8 749.2 L211.4 746.7 L212.0 744.2 L212.6 741.7 L213.1 739.3 L213.7 736.8 L214.3 734.3 L214.9 731.8 L215.5 729.3 L216.0 726.8 L216.6 724.4 L217.2 721.9 L217.8 719.4 L218.3 716.9 L218.9 714.4 L219.5 711.9 L220.1 709.5 L220.7 707.0 L221.3 704.5 L221.8 702.0 L222.4 699.5 L223.0 697.1 L223.6 694.6 L224.2 692.1 L224.8 689.6 L225.4 687.1 L226.0 684.7 L226.6 682.2 L227.3 679.7 L227.9 677.2 L228.5 674.8 L229.1 672.3 L229.7 669.8 L230.4 667.4 L231.0 664.9 L231.7 662.4 L232.3 660.0 L233.0 657.5 L233.6 655.1 L234.3 652.6 L241.5 637.7 L245.5 636.8 L249.5 637.7 L254.9 652.6 L255.9 654.9 L256.9 657.2 L257.8 659.5 L258.7 661.9 L259.6 664.2 L260.5 666.6 L261.3 668.9 L262.2 671.3 L263.0 673.6 L263.8 676.0 L264.6 678.4 L265.3 680.8 L266.1 683.2 L266.8 685.6 L267.6 688.0 L268.3 690.4 L269.0 692.8 L269.7 695.3 L270.4 697.7 L271.1 700.1 L271.8 702.5 L272.5 704.9 L273.2 707.4 L273.9 709.8 L274.6 712.2 L275.3 714.6 L276.1 717.0 L276.8 719.4 L277.5 721.8 L278.2 724.2 L279.0 726.6 L279.7 729.0 L280.5 731.4 L281.3 733.8 L282.1 736.1 L282.9 738.5 L283.7 740.8 L284.6 743.2 L285.4 745.5 L286.3 747.8 L287.2 750.2 L288.1 752.5 L289.0 754.8 L289.9 757.1 L290.8 759.4 L291.8 761.7 L292.7 764.0 L293.7 766.3 L294.7 768.6 L295.6 770.9 L296.6 773.2 L297.6 775.5 L298.6 777.8 L299.6 780.1 L300.6 782.4 L301.6 784.7 L302.6 787.1 L303.6 789.4 L304.6 791.7 L305.6 794.0 L306.6 796.3 L307.6 798.6 L308.7 800.9 L309.7 803.2 L310.8 805.5 L311.9 807.8 L312.9 810.1 L314.0 812.4 L315.2 814.7 L316.3 816.9 L317.4 819.2 L318.6 821.4 L319.8 823.6 L321.0 825.8 L322.2 828.0 L323.5 830.2 L324.7 832.3 L326.0 834.5 L327.4 836.6 L328.7 838.7 L330.1 840.8 L331.5 842.8 L333.0 844.9 L334.4 846.9 L335.9 848.9 L337.5 850.8 L339.1 852.8 L340.7 854.7 L342.3 856.5 L344.0 858.4 L345.7 860.2 L347.5 862.0 L349.3 863.7 L351.2 865.4 L353.0 867.1 L355.0 868.7 L357.0 870.3 L359.0 871.9 L361.0 873.4 L363.1 874.9 L365.3 876.3 L367.4 877.6 L369.6 878.9 L371.9 880.2 L374.1 881.4 L376.4 882.5 L378.7 883.5 L381.1 884.5 L383.4 885.3 L385.8 886.1 L388.2 886.8 L390.6 887.5 L393.0 888.0 L395.4 888.4 L397.9 888.8 L400.3 889.0 L402.7 889.2 L405.2 889.2 L407.7 889.1 L410.1 888.9 L412.6 888.6 L415.0 888.2 L417.4 887.7 L419.9 887.1 L422.3 886.4 L424.7 885.6 L427.1 884.8 L429.4 883.9 L431.8 882.9 L434.1 881.8 L436.4 880.7 L438.6 879.5 L440.9 878.3 L443.1 877.0 L445.2 875.7 L447.4 874.4 L449.5 873.0 L451.6 871.5 L453.7 870.1 L455.7 868.6 L457.7 867.0 L459.7 865.4 L461.7 863.8 L463.7 862.2 L465.6 860.5 L467.5 858.8 L469.5 857.1 L471.4 855.4 L473.3 853.7 L475.2 852.0 L477.0 850.2 L478.9 848.5 L480.8 846.8 L482.7 845.0 L484.6 843.3 L486.5 841.6 L488.3 839.9 L490.2 838.2 L492.1 836.6 L494.1 834.9 L496.0 833.3 L497.9 831.7 L499.8 830.1 L501.8 828.6 L503.8 827.1 L505.8 825.7 L507.8 824.3 L509.8 822.9 L511.9 821.6 L514.0 820.3 L516.1 819.1 L518.2 818.0 L520.4 816.9 L522.6 815.8 L524.9 814.9 L527.1 814.0 L529.4 813.1 L531.8 812.4 L534.2 811.7 L536.6 811.1 L539.0 810.6 L541.5 810.2 L543.9 809.8 L546.4 809.5 L548.9 809.3 L551.4 809.1 L554.0 809.0 L556.5 809.1 L559.0 809.1 L561.5 809.3 L564.0 809.5 L566.5 809.7 L569.0 810.0 L571.5 810.3 L574.0 810.7 L576.5 811.0 L579.0 811.4 L581.5 811.9 L584.0 812.3 L586.5 812.7 L589.0 813.1 L591.5 813.5 L594.0 813.9 L596.5 814.3 L599.0 814.6 L601.5 814.9 L604.0 815.1 L606.5 815.3 L609.0 815.5 L611.5 815.6 L614.0 815.6 L616.5 815.6 L619.0 815.5 L621.5 815.3 L624.0 815.1 L626.4 814.8 L628.9 814.5 L631.4 814.1 L633.9 813.7 L636.3 813.2 L638.8 812.7 L641.2 812.1 L643.7 811.5 L646.1 810.9 L648.5 810.1 L650.9 809.4 L653.3 808.6 L655.7 807.8 L658.1 806.9 L660.5 806.0 L662.8 805.0 L665.2 804.1 L667.5 803.0 L669.8 802.0 L672.1 800.9 L674.4 799.8 L676.6 798.7 L678.9 797.5 L681.1 796.3 L683.4 795.1 L685.6 793.8 L687.7 792.6 L689.9 791.3 L692.0 790.0 L694.2 788.6 L696.3 787.3 L698.4 785.9 L700.4 784.6 L702.5 783.2 L704.6 781.8 L706.6 780.4 L708.7 779.0 L710.8 777.7 L712.8 776.3 L714.9 774.9 L717.0 773.5 L719.1 772.1 L721.2 770.8 L723.3 769.4 L725.4 768.1 L727.5 766.8 L729.7 765.5 L731.9 764.2 L734.1 763.0 L736.3 761.8 L738.6 760.6 L740.9 759.4 L743.1 758.3 L745.4 757.2 L747.8 756.1 L750.1 755.1 L752.5 754.1 L754.8 753.1 L757.2 752.2 L759.6 751.3 L762.0 750.5 L764.4 749.7 L766.8 749.0 L769.2 748.3 L771.7 747.7 L774.1 747.1 L776.6 746.6 L779.0 746.1 L781.5 745.7 L783.9 745.3 L786.4 745.0 L788.8 744.8 L791.3 744.7 L793.7 744.6 L796.2 744.5 L798.6 744.6 L801.1 744.7 L803.5 744.9 L805.9 745.2 L808.4 745.5 L810.8 746.0 L813.2 746.5 L815.6 747.0 L818.0 747.7 L820.4 748.4 L822.7 749.2 L825.1 750.1 L827.4 751.0 L829.8 751.9 L832.1 752.9 L834.4 754.0 L836.7 755.1 L839.0 756.3 L841.2 757.5 L843.5 758.7 L845.7 760.0 L848.0 761.3 L850.2 762.6 L852.4 763.9 L854.6 765.3 L856.7 766.7 L858.9 768.1 L861.0 769.5 L863.1 770.9 L865.2 772.3 L867.3 773.7 L869.4 775.2 L871.4 776.6 L873.5 778.0 L875.5 779.5 L877.5 780.9 L879.5 782.4 L881.6 783.8 L883.6 785.3 L885.6 786.7 L887.6 788.2 L889.6 789.6 L891.6 791.1 L893.6 792.5 L895.6 794.0 L897.7 795.4 L899.7 796.8 L901.7 798.3 L903.8 799.7 L905.8 801.1 L907.9 802.6 L909.9 804.0 L912.0 805.4 L914.1 806.8 L916.1 808.2 L918.2 809.6 L920.3 811.0 L922.4 812.4 L924.5 813.8 L926.6 815.2 L928.7 816.5 L930.8 817.9 L932.9 819.2 L935.1 820.6 L937.2 821.9 L939.3 823.2 L941.5 824.6 L943.6 825.9 L945.8 827.2 L948.0 828.4 L950.1 829.7 L952.3 831.0 L954.5 832.2 L956.7 833.5 L958.9 834.7 L961.1 835.9 L963.3 837.1 L965.5 838.3 L967.7 839.5 L970.0 840.6 L972.2 841.8 L974.4 842.9 L976.7 844.0 L978.9 845.1 L981.2 846.2 L983.5 847.3 L985.7 848.3 L988.0 849.4 L990.3 850.4 L992.6 851.4 L994.9 852.4 L997.2 853.3 L999.6 854.3 L1001.9 855.2 L1004.2 856.1 L1006.6 857.0 L1008.9 857.9 L1011.3 858.7 L1013.6 859.5 L1016.0 860.4 L1018.4 861.1 L1020.8 861.9 L1023.2 862.7 L1025.6 863.4 L1028.0 864.1 L1030.4 864.8 L1032.8 865.5 L1035.2 866.1 L1037.6 866.8 L1040.1 867.4 L1042.5 868.0 L1044.9 868.6 L1047.4 869.2 L1049.8 869.8 L1052.3 870.3 L1054.7 870.9 L1057.2 871.4 L1059.7 871.9 L1062.1 872.4 L1064.6 872.9 L1067.1 873.4 L1069.5 873.8 L1072.0 874.3 L1074.5 874.7 L1077.0 875.2 L1079.5 875.6 L1081.9 876.0 L1084.4 876.4 L1086.9 876.8 L1089.4 877.1 L1091.9 877.5 L1094.4 877.9 L1096.9 878.2 L1099.4 878.6 L1101.8 878.9 L1104.3 879.3 L1106.8 879.6 L1109.3 879.9 L1111.8 880.2 L1114.3 880.5 L1116.8 880.8 L1119.3 881.1 L1121.8 881.3 L1124.3 881.6 L1126.8 881.9 L1129.3 882.1 L1131.8 882.4 L1134.3 882.6 L1136.7 882.8 L1139.2 883.1 L1141.7 883.3 L1144.2 883.5 L1146.7 883.7 L1149.2 883.9 L1151.7 884.1 L1154.2 884.3 L1156.7 884.5 L1159.2 884.6 L1161.7 884.8 L1164.2 885.0 L1166.7 885.1 L1169.2 885.3 L1171.7 885.4 L1174.2 885.6 L1176.7 885.7 L1179.2 885.9 L1181.8 886.0 L1184.3 886.1 L1186.8 886.2 L1189.3 886.4 L1191.8 886.5 L1194.3 886.6 L1196.8 886.7 L1199.3 886.8 L1201.8 886.9 L1204.3 887.0 L1206.8 887.0 L1209.3 887.1 L1211.8 887.2 L1214.3 887.3 L1216.8 887.3 L1219.3 887.4 L1221.8 887.5 L1224.4 887.5 L1226.9 887.6 L1229.4 887.7 L1231.9 887.7 L1234.4 887.8 L1236.9 887.8 L1239.4 887.9 L1241.9 887.9 L1244.4 887.9 L1246.9 888.0 L1249.4 888.0 L1252.0 888.1 L1254.5 888.1 L1257.0 888.1 L1259.5 888.1 L1262.0 888.2 L1264.5 888.2 L1267.0 888.2 L1269.5 888.3 L1272.0 888.3 L1274.5 888.3 L1277.1 888.3 L1279.6 888.3 L1282.1 888.4 L1284.6 888.4 L1287.1 888.4 L1289.6 888.4 L1292.1 888.4 L1294.6 888.5 L1297.1 888.5 L1299.7 888.5 L1302.2 888.5 L1304.7 888.5 L1307.2 888.6 L1309.7 888.6 L1312.2 888.6 L1314.7 888.6 L1317.2 888.6 L1319.7 888.7 L1322.2 888.7 L1324.8 888.7 L1327.3 888.7 L1329.8 888.8 L1332.3 888.8 L1334.8 888.8 L1337.3 888.9 L1339.8 888.9 L1342.3 888.9 L1344.8 889.0 L1347.3 889.0 L1349.9 889.0 L1352.4 889.1 L1354.9 889.1 L1357.4 889.2 L1359.9 889.2 L1362.4 889.3 L1364.9 889.3 L1367.4 889.4 L1369.9 889.5 L1372.4 889.5 L1374.9 889.6 L1377.4 889.7 L1380.0 889.8 L1382.5 889.8 L1385.0 889.9 L1387.5 890.0 L1390.0 890.1 L1392.5 890.2 L1395.0 890.3 L1397.5 890.4" fill="none" stroke="#0000CD" stroke-width="17.9" stroke-linecap="round" stroke-linejoin="round"/>
<path d="M168.5 768.8 L169.1 766.3 L169.7 763.9 L170.3 761.4 L170.9 759.0 L171.5 756.5 L172.1 754.1 L172.7 751.6 L173.2 749.2 L173.8 746.7 L174.4 744.2 L175.0 741.8 L175.5 739.3 L176.1 736.9 L176.6 734.4 L177.2 731.9 L177.8 729.5 L178.3 727.0 L178.8 724.6 L179.4 722.1 L179.9 719.6 L180.5 717.2 L181.0 714.7 L181.5 712.2 L182.1 709.8 L182.6 707.3 L183.1 704.8 L183.6 702.4 L184.1 699.9 L184.6 697.4 L185.1 694.9 L185.6 692.5 L186.1 690.0 L186.6 687.5 L187.1 685.1 L187.6 682.6 L188.1 680.1 L188.6 677.6 L189.1 675.1 L189.5 672.7 L190.0 670.2 L190.5 667.7 L191.0 665.2 L191.4 662.8 L191.9 660.3 L192.3 657.8 L192.8 655.3 L193.3 652.8 L193.7 650.4 L194.1 647.9 L194.6 645.4 L195.0 642.9 L195.5 640.4 L195.9 637.9 L196.3 635.5 L196.8 633.0 L197.2 630.5 L197.6 628.0 L198.0 625.5 L198.5 623.0 L198.9 620.5 L199.3 618.0 L199.7 615.6 L200.1 613.1 L200.5 610.6 L200.9 608.1 L201.3 605.6 L201.7 603.1 L202.1 600.6 L202.5 598.1 L202.8 595.6 L203.2 593.1 L203.6 590.6 L204.0 588.2 L204.4 585.7 L204.7 583.2 L205.1 580.7 L205.5 578.2 L205.8 575.7 L206.2 573.2 L206.5 570.7 L206.9 568.2 L207.3 565.7 L207.6 563.2 L208.0 560.7 L208.3 558.2 L208.6 555.7 L209.0 553.2 L209.3 550.7 L209.7 548.2 L210.0 545.7 L210.3 543.2 L210.6 540.7 L211.0 538.2 L211.3 535.7 L211.6 533.2 L212.0 530.7 L212.3 528.2 L212.6 525.7 L212.9 523.2 L213.3 520.7 L213.6 518.2 L213.9 515.7 L214.3 513.2 L214.6 510.7 L215.0 508.2 L215.3 505.7 L215.7 503.2 L216.0 500.7 L216.4 498.2 L216.7 495.7 L217.1 493.2 L217.5 490.7 L217.9 488.2 L218.3 485.7 L218.7 483.2 L219.1 480.7 L219.5 478.2 L219.9 475.7 L220.3 473.2 L220.8 470.7 L221.3 468.2 L221.9 465.8 L222.5 463.4 L223.2 461.0 L224.0 458.6 L224.9 456.3 L225.9 454.1 L227.0 451.8 L228.3 449.7 L229.4 451.9 L230.5 454.2 L231.5 456.4 L232.4 458.7 L233.2 461.0 L234.0 463.4 L234.7 465.7 L235.4 468.1 L236.0 470.5 L236.6 472.9 L237.2 475.3 L237.7 477.8 L238.2 480.2 L238.6 482.7 L239.1 485.2 L239.5 487.6 L239.9 490.1 L240.4 492.6 L240.8 495.0 L241.2 497.5 L241.7 500.0 L242.1 502.5 L242.5 505.0 L242.9 507.4 L243.4 509.9 L243.8 512.4 L244.2 514.9 L244.7 517.4 L245.1 519.9 L245.5 522.3 L246.0 524.8 L246.4 527.3 L246.8 529.8 L247.3 532.3 L247.7 534.8 L248.1 537.2 L248.6 539.7 L249.0 542.2 L249.4 544.7 L249.9 547.2 L250.3 549.6 L250.7 552.1 L251.2 554.6 L251.6 557.1 L252.1 559.5 L252.5 562.0 L252.9 564.5 L253.4 567.0 L253.8 569.4 L254.3 571.9 L254.7 574.4 L255.2 576.8 L255.6 579.3 L256.1 581.7 L256.6 584.2 L257.0 586.7 L257.5 589.1 L258.0 591.6 L258.5 594.0 L259.0 596.5 L259.5 598.9 L260.0 601.4 L260.5 603.8 L261.0 606.2 L261.5 608.7 L262.0 611.1 L262.5 613.5 L263.1 616.0 L263.6 618.4 L264.2 620.8 L264.7 623.3 L265.3 625.7 L265.9 628.1 L266.5 630.5 L267.0 632.9 L267.7 635.3 L268.3 637.7 L268.9 640.1 L269.5 642.5 L270.2 644.9 L270.8 647.3 L271.5 649.7 L272.2 652.1 L272.8 654.5 L273.5 656.9 L274.3 659.3 L275.0 661.6 L275.7 664.0 L276.5 666.4 L277.2 668.8 L278.0 671.1 L278.8 673.5 L279.6 675.8 L280.4 678.2 L281.2 680.5 L282.1 682.9 L282.9 685.2 L283.8 687.6 L284.7 689.9 L285.6 692.2 L286.5 694.5 L287.5 696.9 L288.4 699.2 L289.4 701.5 L290.4 703.8 L291.4 706.1 L292.4 708.4 L293.5 710.7 L294.5 713.0 L295.6 715.3 L296.7 717.6 L297.8 719.8 L298.9 722.1 L300.1 724.4 L301.3 726.6 L302.5 728.9 L303.7 731.1 L304.9 733.4 L306.2 735.6 L307.4 737.9 L308.7 740.1 L310.1 742.3 L311.4 744.5 L312.8 746.6 L314.2 748.8 L315.6 750.9 L317.0 753.0 L318.5 755.1 L320.0 757.2 L321.5 759.2 L323.1 761.2 L324.7 763.2 L326.3 765.1 L327.9 767.0 L329.6 768.9 L331.3 770.8 L333.0 772.5 L334.8 774.3 L336.6 776.0 L338.4 777.7 L340.3 779.3 L342.2 780.9 L344.1 782.4 L346.0 783.9 L348.0 785.3 L350.1 786.7 L352.1 788.0 L354.2 789.2 L356.4 790.4 L358.6 791.5 L360.8 792.6 L363.1 793.6 L365.4 794.6 L367.7 795.4 L370.1 796.2 L372.5 796.9 L374.9 797.6 L377.3 798.2 L379.8 798.7 L382.3 799.1 L384.8 799.4 L387.3 799.6 L389.8 799.8 L392.3 799.9 L394.9 799.8 L397.4 799.7 L399.8 799.5 L402.3 799.2 L404.8 798.8 L407.2 798.3 L409.7 797.7 L412.1 797.0 L414.5 796.3 L416.8 795.5 L419.2 794.6 L421.5 793.7 L423.8 792.7 L426.1 791.6 L428.4 790.4 L430.6 789.3 L432.8 788.0 L435.0 786.7 L437.2 785.4 L439.3 784.0 L441.4 782.6 L443.5 781.1 L445.6 779.6 L447.6 778.1 L449.6 776.6 L451.6 775.0 L453.6 773.4 L455.5 771.8 L457.4 770.2 L459.3 768.6 L461.2 766.9 L463.0 765.3 L464.9 763.6 L466.7 761.9 L468.6 760.2 L470.4 758.5 L472.2 756.8 L474.0 755.0 L475.8 753.3 L477.6 751.6 L479.5 749.8 L481.3 748.1 L483.1 746.4 L485.0 744.6 L486.8 742.9 L488.7 741.2 L490.6 739.5 L492.5 737.8 L494.4 736.1 L496.4 734.4 L498.3 732.8 L500.3 731.1 L502.3 729.5 L504.3 728.0 L506.4 726.5 L508.5 725.0 L510.5 723.6 L512.6 722.2 L514.8 720.9 L516.9 719.6 L519.1 718.4 L521.3 717.3 L523.5 716.3 L525.7 715.3 L528.0 714.5 L530.3 713.7 L532.6 713.0 L534.9 712.4 L537.3 711.9 L539.7 711.5 L542.1 711.2 L544.5 710.9 L546.9 710.8 L549.3 710.7 L551.8 710.7 L554.3 710.8 L556.7 710.9 L559.2 711.2 L561.7 711.4 L564.2 711.7 L566.8 712.1 L569.3 712.5 L571.8 712.9 L574.3 713.3 L576.9 713.8 L579.4 714.2 L582.0 714.7 L584.5 715.2 L587.1 715.7 L589.6 716.1 L592.1 716.6 L594.7 717.0 L597.2 717.4 L599.7 717.7 L602.3 718.0 L604.8 718.3 L607.3 718.5 L609.8 718.7 L612.3 718.8 L614.8 718.8 L617.3 718.8 L619.7 718.7 L622.2 718.5 L624.6 718.3 L627.1 718.0 L629.5 717.7 L631.9 717.3 L634.3 716.8 L636.7 716.3 L639.1 715.8 L641.5 715.2 L643.9 714.6 L646.2 713.9 L648.6 713.1 L650.9 712.3 L653.2 711.5 L655.5 710.6 L657.9 709.7 L660.1 708.8 L662.4 707.8 L664.7 706.8 L667.0 705.7 L669.2 704.6 L671.5 703.5 L673.7 702.3 L675.9 701.1 L678.2 699.9 L680.4 698.6 L682.6 697.4 L684.7 696.1 L686.9 694.7 L689.1 693.4 L691.2 692.0 L693.4 690.6 L695.5 689.2 L697.6 687.8 L699.8 686.3 L701.9 684.9 L704.0 683.4 L706.1 681.9 L708.2 680.5 L710.3 679.0 L712.4 677.5 L714.5 676.0 L716.6 674.6 L718.7 673.1 L720.8 671.7 L722.9 670.2 L725.0 668.8 L727.1 667.4 L729.2 666.0 L731.3 664.6 L733.5 663.2 L735.6 661.9 L737.7 660.6 L739.9 659.4 L742.1 658.1 L744.3 656.9 L746.5 655.7 L748.7 654.6 L750.9 653.5 L753.1 652.5 L755.4 651.5 L757.7 650.5 L760.0 649.6 L762.3 648.7 L764.6 647.9 L767.0 647.2 L769.4 646.5 L771.8 645.9 L774.2 645.3 L776.6 644.8 L779.1 644.3 L781.6 644.0 L784.1 643.7 L786.5 643.5 L789.0 643.3 L791.5 643.2 L794.0 643.2 L796.5 643.3 L799.0 643.5 L801.4 643.7 L803.9 644.0 L806.3 644.4 L808.8 644.8 L811.2 645.3 L813.6 645.9 L816.0 646.5 L818.4 647.2 L820.8 648.0 L823.2 648.8 L825.6 649.6 L827.9 650.5 L830.3 651.4 L832.6 652.4 L834.9 653.4 L837.2 654.5 L839.5 655.6 L841.8 656.7 L844.0 657.9 L846.3 659.1 L848.5 660.3 L850.7 661.6 L852.9 662.8 L855.0 664.1 L857.2 665.4 L859.3 666.8 L861.4 668.1 L863.5 669.5 L865.6 670.9 L867.7 672.3 L869.8 673.7 L871.9 675.1 L873.9 676.5 L875.9 678.0 L878.0 679.4 L880.0 680.9 L882.0 682.4 L884.0 683.9 L886.0 685.4 L888.0 686.9 L890.0 688.4 L892.0 689.9 L894.0 691.4 L896.0 692.9 L898.0 694.5 L900.0 696.0 L902.0 697.5 L903.9 699.0 L905.9 700.5 L907.9 702.1 L909.9 703.6 L911.9 705.1 L913.9 706.6 L915.9 708.1 L917.9 709.5 L920.0 711.0 L922.0 712.5 L924.0 713.9 L926.1 715.4 L928.1 716.8 L930.2 718.2 L932.3 719.6 L934.3 721.0 L936.4 722.4 L938.5 723.7 L940.6 725.1 L942.8 726.4 L944.9 727.8 L947.0 729.1 L949.2 730.4 L951.3 731.6 L953.5 732.9 L955.7 734.2 L957.8 735.4 L960.0 736.6 L962.2 737.9 L964.4 739.1 L966.6 740.2 L968.8 741.4 L971.1 742.6 L973.3 743.7 L975.5 744.8 L977.8 745.9 L980.0 747.0 L982.3 748.1 L984.6 749.2 L986.8 750.3 L989.1 751.3 L991.4 752.3 L993.7 753.3 L996.0 754.3 L998.3 755.3 L1000.6 756.3 L1002.9 757.2 L1005.3 758.1 L1007.6 759.1 L1009.9 760.0 L1012.3 760.9 L1014.6 761.7 L1017.0 762.6 L1019.3 763.4 L1021.7 764.2 L1024.1 765.0 L1026.4 765.8 L1028.8 766.6 L1031.2 767.4 L1033.6 768.1 L1036.0 768.8 L1038.4 769.5 L1040.8 770.2 L1043.2 770.9 L1045.6 771.6 L1048.0 772.2 L1050.5 772.8 L1052.9 773.4 L1055.3 774.0 L1057.7 774.6 L1060.2 775.1 L1062.6 775.7 L1065.1 776.2 L1067.5 776.7 L1070.0 777.2 L1072.4 777.7 L1074.9 778.2 L1077.3 778.6 L1079.8 779.0 L1082.3 779.5 L1084.7 779.9 L1087.2 780.3 L1089.7 780.7 L1092.1 781.0 L1094.6 781.4 L1097.1 781.7 L1099.6 782.1 L1102.1 782.4 L1104.6 782.7 L1107.1 783.0 L1109.5 783.3 L1112.0 783.6 L1114.5 783.9 L1117.0 784.1 L1119.5 784.4 L1122.0 784.6 L1124.5 784.9 L1127.0 785.1 L1129.5 785.3 L1132.0 785.5 L1134.5 785.8 L1137.0 786.0 L1139.6 786.1 L1142.1 786.3 L1144.6 786.5 L1147.1 786.7 L1149.6 786.8 L1152.1 787.0 L1154.6 787.2 L1157.1 787.3 L1159.6 787.5 L1162.1 787.6 L1164.6 787.7 L1167.1 787.9 L1169.7 788.0 L1172.2 788.1 L1174.7 788.3 L1177.2 788.4 L1179.7 788.5 L1182.2 788.6 L1184.7 788.7 L1187.2 788.8 L1189.7 788.9 L1192.2 789.0 L1194.7 789.1 L1197.2 789.2 L1199.7 789.3 L1202.2 789.4 L1204.7 789.5 L1207.2 789.6 L1209.7 789.7 L1212.3 789.8 L1214.8 789.9 L1217.3 789.9 L1219.8 790.0 L1222.3 790.1 L1224.8 790.2 L1227.3 790.2 L1229.8 790.3 L1232.3 790.4 L1234.8 790.4 L1237.3 790.5 L1239.8 790.6 L1242.3 790.6 L1244.8 790.7 L1247.3 790.7 L1249.8 790.8 L1252.3 790.9 L1254.8 790.9 L1257.3 791.0 L1259.8 791.0 L1262.3 791.1 L1264.8 791.1 L1267.3 791.2 L1269.8 791.2 L1272.3 791.3 L1274.8 791.3 L1277.3 791.3 L1279.8 791.4 L1282.3 791.4 L1284.8 791.5 L1287.3 791.5 L1289.8 791.6 L1292.3 791.6 L1294.8 791.6 L1297.3 791.7 L1299.8 791.7 L1302.3 791.8 L1304.8 791.8 L1307.3 791.9 L1309.8 791.9 L1312.3 791.9 L1314.8 792.0 L1317.3 792.0 L1319.8 792.1 L1322.3 792.1 L1324.8 792.1 L1327.3 792.2 L1329.8 792.2 L1332.3 792.3 L1334.8 792.3 L1337.3 792.4 L1339.8 792.4 L1342.3 792.5 L1344.8 792.5 L1347.3 792.6 L1349.8 792.6 L1352.3 792.7 L1354.8 792.7 L1357.3 792.8 L1359.9 792.8 L1362.4 792.9 L1364.9 792.9 L1367.4 793.0 L1369.9 793.0 L1372.4 793.1 L1374.9 793.2 L1377.4 793.2 L1379.9 793.3 L1382.4 793.4 L1384.9 793.4 L1387.5 793.5 L1390.0 793.6 L1392.5 793.6 L1395.0 793.7 L1397.5 793.8" fill="none" stroke="#9914D4" stroke-width="17.9" stroke-linecap="round" stroke-linejoin="round"/>
<path d="M168.5 638.9 L169.0 636.4 L169.5 633.9 L169.9 631.4 L170.4 628.9 L170.8 626.5 L171.3 624.0 L171.8 621.5 L172.2 619.0 L172.7 616.5 L173.1 614.0 L173.5 611.5 L174.0 609.0 L174.4 606.5 L174.8 604.0 L175.2 601.5 L175.7 599.0 L176.1 596.5 L176.5 594.0 L176.9 591.5 L177.3 589.0 L177.7 586.5 L178.1 584.0 L178.5 581.5 L178.9 579.0 L179.3 576.5 L179.7 574.0 L180.1 571.5 L180.4 569.0 L180.8 566.4 L181.2 563.9 L181.6 561.4 L181.9 558.9 L182.3 556.4 L182.7 553.9 L183.0 551.4 L183.4 548.9 L183.8 546.4 L184.1 543.9 L184.5 541.4 L184.8 538.8 L185.2 536.3 L185.5 533.8 L185.9 531.3 L186.2 528.8 L186.5 526.3 L186.9 523.8 L187.2 521.3 L187.5 518.7 L187.9 516.2 L188.2 513.7 L188.5 511.2 L188.9 508.7 L189.2 506.2 L189.5 503.7 L189.8 501.1 L190.2 498.6 L190.5 496.1 L190.8 493.6 L191.1 491.1 L191.4 488.6 L191.7 486.1 L192.1 483.5 L192.4 481.0 L192.7 478.5 L193.0 476.0 L193.3 473.5 L193.6 471.0 L193.9 468.4 L194.2 465.9 L194.5 463.4 L194.9 460.9 L195.2 458.4 L195.5 455.9 L195.8 453.4 L196.1 450.8 L196.4 448.3 L196.7 445.8 L197.0 443.3 L197.3 440.8 L197.6 438.3 L197.9 435.8 L198.2 433.2 L198.5 430.7 L198.8 428.2 L199.1 425.7 L199.4 423.2 L199.7 420.7 L200.0 418.2 L200.4 415.7 L200.7 413.1 L201.0 410.6 L201.3 408.1 L201.6 405.6 L201.9 403.1 L202.2 400.6 L202.5 398.1 L202.8 395.6 L203.1 393.1 L203.4 390.5 L203.7 388.0 L204.0 385.5 L204.2 383.0 L204.5 380.5 L204.8 378.0 L205.1 375.4 L205.4 372.9 L205.6 370.4 L205.9 367.9 L206.2 365.4 L206.4 362.8 L206.7 360.3 L206.9 357.8 L207.2 355.2 L207.4 352.7 L207.6 350.2 L207.9 347.6 L208.1 345.1 L208.3 342.6 L208.5 340.0 L208.7 337.5 L208.9 334.9 L209.1 332.4 L209.3 329.9 L209.6 327.3 L209.8 324.8 L210.1 322.3 L210.4 319.8 L210.7 317.2 L211.0 314.7 L211.4 312.2 L211.8 309.8 L212.3 307.3 L212.8 304.8 L213.3 302.4 L213.9 300.0 L214.6 297.6 L215.5 295.2 L216.5 292.9 L217.9 290.7 L218.9 293.1 L219.8 295.4 L220.6 297.8 L221.3 300.1 L221.9 302.5 L222.4 305.0 L222.9 307.4 L223.3 309.9 L223.7 312.4 L224.1 314.8 L224.5 317.3 L224.8 319.8 L225.1 322.3 L225.5 324.8 L225.8 327.3 L226.1 329.8 L226.5 332.2 L226.8 334.7 L227.1 337.2 L227.5 339.7 L227.8 342.2 L228.1 344.7 L228.5 347.2 L228.8 349.7 L229.1 352.1 L229.4 354.6 L229.8 357.1 L230.1 359.6 L230.4 362.1 L230.7 364.6 L231.1 367.1 L231.4 369.6 L231.7 372.1 L232.0 374.5 L232.3 377.0 L232.6 379.5 L232.9 382.0 L233.2 384.5 L233.5 387.0 L233.8 389.5 L234.1 392.0 L234.4 394.5 L234.7 397.0 L235.0 399.5 L235.3 402.0 L235.6 404.4 L235.9 406.9 L236.2 409.4 L236.6 411.9 L236.9 414.4 L237.2 416.9 L237.5 419.4 L237.8 421.9 L238.1 424.4 L238.5 426.8 L238.8 429.3 L239.1 431.8 L239.5 434.3 L239.8 436.8 L240.2 439.3 L240.5 441.8 L240.9 444.2 L241.2 446.7 L241.6 449.2 L242.0 451.7 L242.4 454.1 L242.8 456.6 L243.2 459.1 L243.6 461.6 L244.0 464.0 L244.4 466.5 L244.8 469.0 L245.3 471.4 L245.7 473.9 L246.2 476.4 L246.6 478.8 L247.1 481.3 L247.6 483.7 L248.1 486.2 L248.6 488.6 L249.1 491.1 L249.6 493.5 L250.1 496.0 L250.7 498.4 L251.2 500.9 L251.8 503.3 L252.3 505.8 L252.9 508.2 L253.5 510.6 L254.1 513.1 L254.7 515.5 L255.3 517.9 L255.9 520.4 L256.5 522.8 L257.2 525.2 L257.8 527.6 L258.5 530.0 L259.2 532.5 L259.8 534.9 L260.5 537.3 L261.2 539.7 L261.9 542.1 L262.6 544.5 L263.3 546.9 L264.1 549.3 L264.8 551.7 L265.6 554.1 L266.3 556.5 L267.1 558.9 L267.9 561.3 L268.7 563.7 L269.5 566.0 L270.3 568.4 L271.1 570.8 L271.9 573.2 L272.8 575.5 L273.6 577.9 L274.5 580.3 L275.3 582.6 L276.2 585.0 L277.1 587.3 L278.0 589.7 L278.9 592.0 L279.8 594.4 L280.8 596.7 L281.7 599.0 L282.7 601.4 L283.7 603.7 L284.7 606.0 L285.7 608.3 L286.7 610.6 L287.8 612.8 L288.9 615.1 L290.0 617.3 L291.1 619.6 L292.2 621.8 L293.4 624.0 L294.5 626.2 L295.8 628.4 L297.0 630.5 L298.2 632.7 L299.5 634.8 L300.8 636.9 L302.2 639.0 L303.6 641.1 L305.0 643.1 L306.4 645.2 L307.8 647.2 L309.3 649.1 L310.9 651.1 L312.4 653.0 L314.0 654.9 L315.6 656.8 L317.3 658.7 L319.0 660.5 L320.7 662.3 L322.5 664.1 L324.2 665.8 L326.1 667.6 L327.9 669.2 L329.8 670.9 L331.7 672.5 L333.7 674.1 L335.7 675.6 L337.7 677.2 L339.7 678.6 L341.8 680.1 L344.0 681.5 L346.1 682.9 L348.3 684.2 L350.5 685.5 L352.8 686.7 L355.1 687.8 L357.4 689.0 L359.7 690.0 L362.0 691.0 L364.4 691.9 L366.8 692.7 L369.2 693.5 L371.6 694.2 L374.0 694.8 L376.4 695.3 L378.9 695.7 L381.3 696.0 L383.8 696.2 L386.2 696.4 L388.7 696.4 L391.1 696.3 L393.6 696.1 L396.0 695.8 L398.4 695.4 L400.9 694.9 L403.3 694.4 L405.7 693.7 L408.1 693.0 L410.5 692.2 L412.9 691.4 L415.2 690.4 L417.6 689.5 L419.9 688.4 L422.2 687.3 L424.5 686.1 L426.8 684.9 L429.0 683.7 L431.2 682.4 L433.4 681.0 L435.6 679.7 L437.7 678.3 L439.8 676.8 L441.9 675.4 L443.9 673.9 L445.9 672.4 L447.9 670.9 L449.8 669.4 L451.8 667.8 L453.7 666.2 L455.6 664.6 L457.4 663.0 L459.3 661.4 L461.1 659.8 L463.0 658.1 L464.8 656.4 L466.6 654.7 L468.4 653.0 L470.2 651.3 L472.0 649.6 L473.8 647.9 L475.6 646.2 L477.4 644.4 L479.2 642.7 L481.0 640.9 L482.9 639.1 L484.7 637.4 L486.5 635.6 L488.4 633.8 L490.3 632.1 L492.2 630.3 L494.1 628.5 L496.0 626.8 L498.0 625.0 L499.9 623.3 L501.9 621.6 L503.9 620.0 L505.9 618.4 L508.0 616.8 L510.0 615.3 L512.1 613.9 L514.2 612.5 L516.3 611.2 L518.5 609.9 L520.7 608.8 L522.9 607.8 L525.1 606.8 L527.3 605.9 L529.6 605.2 L531.9 604.6 L534.2 604.1 L536.5 603.6 L538.8 603.3 L541.2 603.1 L543.6 603.0 L546.0 603.0 L548.4 603.0 L550.9 603.1 L553.3 603.3 L555.8 603.5 L558.3 603.8 L560.8 604.2 L563.3 604.5 L565.8 605.0 L568.3 605.4 L570.8 605.9 L573.4 606.4 L575.9 606.9 L578.5 607.4 L581.0 607.9 L583.6 608.4 L586.1 608.9 L588.7 609.4 L591.2 609.8 L593.7 610.3 L596.3 610.7 L598.8 611.0 L601.4 611.3 L603.9 611.6 L606.4 611.8 L608.9 611.9 L611.4 612.0 L613.9 612.0 L616.4 611.9 L618.9 611.8 L621.3 611.6 L623.8 611.3 L626.2 611.0 L628.7 610.6 L631.1 610.1 L633.5 609.6 L635.9 609.0 L638.3 608.4 L640.7 607.7 L643.0 607.0 L645.4 606.2 L647.7 605.4 L650.1 604.6 L652.4 603.6 L654.7 602.7 L657.0 601.7 L659.3 600.7 L661.6 599.6 L663.9 598.5 L666.2 597.4 L668.4 596.2 L670.7 595.0 L672.9 593.8 L675.1 592.6 L677.4 591.3 L679.6 590.0 L681.8 588.7 L683.9 587.4 L686.1 586.0 L688.3 584.6 L690.4 583.3 L692.6 581.9 L694.7 580.5 L696.8 579.1 L699.0 577.7 L701.1 576.2 L703.2 574.8 L705.3 573.4 L707.4 572.0 L709.5 570.5 L711.6 569.1 L713.7 567.7 L715.8 566.3 L717.9 564.9 L720.0 563.5 L722.1 562.1 L724.2 560.8 L726.3 559.4 L728.4 558.1 L730.5 556.8 L732.7 555.5 L734.8 554.2 L737.0 553.0 L739.1 551.8 L741.3 550.6 L743.5 549.4 L745.7 548.3 L747.9 547.2 L750.2 546.2 L752.4 545.1 L754.7 544.2 L757.0 543.2 L759.3 542.3 L761.6 541.5 L764.0 540.7 L766.4 539.9 L768.7 539.2 L771.2 538.5 L773.6 537.9 L776.1 537.3 L778.6 536.8 L781.1 536.4 L783.6 536.0 L786.1 535.7 L788.6 535.5 L791.1 535.3 L793.7 535.2 L796.2 535.2 L798.7 535.3 L801.2 535.5 L803.7 535.7 L806.2 536.0 L808.7 536.5 L811.1 537.0 L813.6 537.6 L816.0 538.3 L818.4 539.1 L820.7 539.9 L823.1 540.8 L825.4 541.8 L827.7 542.8 L830.0 543.8 L832.3 544.9 L834.5 546.0 L836.8 547.1 L839.0 548.3 L841.2 549.5 L843.4 550.7 L845.5 551.9 L847.7 553.2 L849.8 554.4 L852.0 555.7 L854.1 557.0 L856.2 558.4 L858.3 559.7 L860.4 561.1 L862.4 562.5 L864.5 563.9 L866.6 565.3 L868.6 566.8 L870.6 568.2 L872.7 569.7 L874.7 571.1 L876.7 572.6 L878.7 574.1 L880.7 575.6 L882.7 577.1 L884.7 578.7 L886.7 580.2 L888.7 581.7 L890.7 583.3 L892.6 584.8 L894.6 586.3 L896.6 587.9 L898.6 589.4 L900.6 591.0 L902.5 592.5 L904.5 594.1 L906.5 595.6 L908.5 597.2 L910.5 598.7 L912.5 600.2 L914.5 601.7 L916.5 603.3 L918.5 604.8 L920.5 606.3 L922.5 607.8 L924.5 609.3 L926.6 610.7 L928.6 612.2 L930.7 613.6 L932.7 615.1 L934.8 616.5 L936.9 617.9 L939.0 619.3 L941.1 620.7 L943.2 622.0 L945.3 623.4 L947.4 624.7 L949.5 626.1 L951.7 627.4 L953.8 628.7 L956.0 630.0 L958.2 631.2 L960.3 632.5 L962.5 633.7 L964.7 635.0 L966.9 636.2 L969.1 637.4 L971.3 638.6 L973.5 639.7 L975.7 640.9 L978.0 642.0 L980.2 643.2 L982.5 644.3 L984.7 645.4 L987.0 646.5 L989.2 647.5 L991.5 648.6 L993.8 649.6 L996.1 650.6 L998.4 651.6 L1000.7 652.6 L1003.0 653.6 L1005.3 654.6 L1007.6 655.5 L1009.9 656.4 L1012.3 657.3 L1014.6 658.2 L1016.9 659.1 L1019.3 660.0 L1021.6 660.8 L1024.0 661.7 L1026.4 662.5 L1028.7 663.3 L1031.1 664.1 L1033.5 664.8 L1035.9 665.6 L1038.3 666.3 L1040.6 667.0 L1043.0 667.7 L1045.4 668.4 L1047.9 669.1 L1050.3 669.7 L1052.7 670.3 L1055.1 671.0 L1057.5 671.6 L1060.0 672.1 L1062.4 672.7 L1064.8 673.3 L1067.3 673.8 L1069.7 674.3 L1072.2 674.8 L1074.6 675.3 L1077.1 675.8 L1079.5 676.2 L1082.0 676.7 L1084.5 677.1 L1086.9 677.5 L1089.4 678.0 L1091.9 678.4 L1094.3 678.7 L1096.8 679.1 L1099.3 679.5 L1101.8 679.8 L1104.3 680.2 L1106.8 680.5 L1109.2 680.8 L1111.7 681.1 L1114.2 681.4 L1116.7 681.7 L1119.2 682.0 L1121.7 682.2 L1124.2 682.5 L1126.7 682.7 L1129.2 683.0 L1131.7 683.2 L1134.2 683.4 L1136.7 683.6 L1139.2 683.9 L1141.8 684.1 L1144.3 684.2 L1146.8 684.4 L1149.3 684.6 L1151.8 684.8 L1154.3 685.0 L1156.8 685.1 L1159.3 685.3 L1161.8 685.4 L1164.4 685.6 L1166.9 685.7 L1169.4 685.9 L1171.9 686.0 L1174.4 686.1 L1176.9 686.3 L1179.4 686.4 L1181.9 686.5 L1184.4 686.6 L1186.9 686.7 L1189.5 686.9 L1192.0 687.0 L1194.5 687.1 L1197.0 687.2 L1199.5 687.3 L1202.0 687.4 L1204.5 687.5 L1207.0 687.5 L1209.5 687.6 L1212.0 687.7 L1214.5 687.8 L1217.0 687.9 L1219.5 688.0 L1222.0 688.0 L1224.5 688.1 L1227.1 688.2 L1229.6 688.2 L1232.1 688.3 L1234.6 688.4 L1237.1 688.4 L1239.6 688.5 L1242.1 688.5 L1244.6 688.6 L1247.1 688.6 L1249.6 688.7 L1252.1 688.7 L1254.6 688.8 L1257.1 688.8 L1259.6 688.9 L1262.1 688.9 L1264.6 688.9 L1267.1 689.0 L1269.6 689.0 L1272.1 689.1 L1274.6 689.1 L1277.1 689.1 L1279.6 689.2 L1282.1 689.2 L1284.6 689.2 L1287.2 689.3 L1289.7 689.3 L1292.2 689.3 L1294.7 689.3 L1297.2 689.4 L1299.7 689.4 L1302.2 689.4 L1304.7 689.5 L1307.2 689.5 L1309.7 689.5 L1312.2 689.5 L1314.7 689.6 L1317.2 689.6 L1319.7 689.6 L1322.2 689.7 L1324.7 689.7 L1327.2 689.7 L1329.7 689.7 L1332.2 689.8 L1334.7 689.8 L1337.3 689.8 L1339.8 689.9 L1342.3 689.9 L1344.8 689.9 L1347.3 690.0 L1349.8 690.0 L1352.3 690.0 L1354.8 690.1 L1357.3 690.1 L1359.8 690.1 L1362.3 690.2 L1364.8 690.2 L1367.4 690.3 L1369.9 690.3 L1372.4 690.3 L1374.9 690.4 L1377.4 690.4 L1379.9 690.5 L1382.4 690.5 L1384.9 690.6 L1387.4 690.7 L1390.0 690.7 L1392.5 690.8 L1395.0 690.8 L1397.5 690.9" fill="none" stroke="#DE1C59" stroke-width="17.9" stroke-linecap="round" stroke-linejoin="round"/>
<rect x="220.7" y="177.0" width="1.2" height="86.6" fill="#000" shape-rendering="crispEdges"/>
<path d="M203.8 235.5 L221.3 251.8 L238.8 235.5 L221.3 283.6 Z" fill="#000"/>
<rect x="535.9" y="482.0" width="1.2" height="87.1" fill="#000" shape-rendering="crispEdges"/>
<path d="M519.0 541.0 L536.5 557.3 L554.0 541.0 L536.5 589.1 Z" fill="#000"/>
<rect x="790.9" y="417.0" width="1.2" height="87.0" fill="#000" shape-rendering="crispEdges"/>
<path d="M774.0 475.9 L791.5 492.2 L809.0 475.9 L791.5 524.0 Z" fill="#000"/>
<g fill="#000000" font-family="'Liberation Sans', sans-serif">
<text><tspan x="217.1" y="152.1" font-size="80.0" font-style="italic">q</tspan><tspan x="260.5" y="170.6" font-size="53.0">1</tspan></text>
<text><tspan x="507.2" y="443.9" font-size="80.0" font-style="italic">q</tspan><tspan x="548.5" y="463.9" font-size="53.0">2</tspan></text>
<text><tspan x="766.1" y="386.9" font-size="80.0" font-style="italic">q</tspan><tspan x="808.9" y="406.8" font-size="53.0">3</tspan></text>
<text transform="scale(0.9050,1)" x="383.3" y="1392.3" font-size="82.0">5</text>
<text transform="scale(0.9400,1)" x="621.5 665.0" y="1391.9" font-size="82.0">10</text>
<text transform="scale(0.9400,1)" x="894.9 939.6" y="1392.0" font-size="82.0">15</text>
<text transform="scale(0.9450,1)" x="1158.7 1206.3" y="1392.1" font-size="82.0">20</text>
<text transform="scale(0.9450,1)" x="1431.7 1478.5" y="1392.2" font-size="82.0">25</text>
<text xml:space="preserve"><tspan x="660.2" y="1490.8" font-size="80.0" font-style="italic">q</tspan> <tspan x="722.9" y="1491.9" font-size="80.0">/</tspan><tspan x="744.1" y="1491.9" font-size="80.0">n</tspan><tspan x="787.2" y="1491.9" font-size="80.0">m</tspan><tspan x="851.2" y="1457.1" font-size="53.0">-</tspan><tspan x="870.4" y="1455.6" font-size="53.0">1</tspan></text>
<text xml:space="preserve" transform="rotate(-90)"><tspan x="-841.8" y="99.5" font-size="80.0" font-style="italic">I</tspan><tspan x="-823.0" y="100.7" font-size="80.0">(</tspan><tspan x="-794.8" y="100.2" font-size="80.0" font-style="italic">q</tspan><tspan x="-752.4" y="100.7" font-size="80.0">)</tspan> <tspan x="-705.1" y="100.5" font-size="80.0">/</tspan><tspan x="-683.6" y="100.6" font-size="80.0">a</tspan><tspan x="-639.6" y="100.9" font-size="80.0">.</tspan><tspan x="-617.2" y="100.8" font-size="80.0">u</tspan><tspan x="-574.5" y="100.9" font-size="80.0">.</tspan></text>
</g>
</svg>
</body>
</html>
